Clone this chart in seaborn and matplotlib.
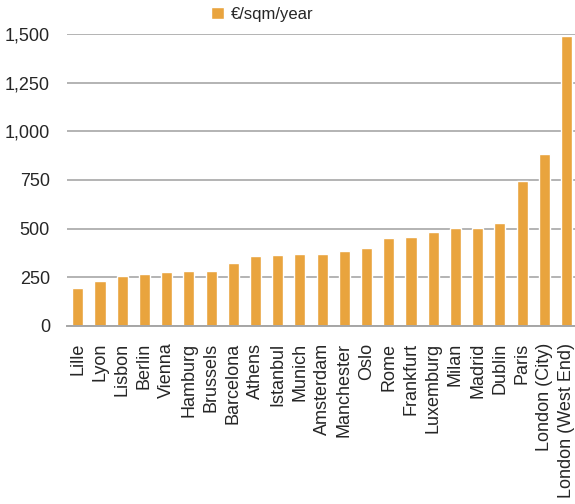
import matplotlib
matplotlib.use("Agg")
import matplotlib.pyplot as plt
import seaborn as sns
import pandas as pd
from matplotlib.ticker import FuncFormatter

cities = ["Lille", "Lyon", "Lisbon", "Berlin", "Vienna", "Hamburg", "Brussels",
          "Barcelona", "Athens", "Istanbul", "Munich", "Amsterdam", "Manchester",
          "Oslo", "Rome", "Frankfurt", "Luxemburg", "Milan", "Madrid", "Dublin",
          "Paris", "London (City)", "London (West End)"]
rents = [197, 233, 258, 269, 279, 284, 284, 325, 361, 366, 370, 370, 385,
         400, 451, 456, 482, 502, 502, 528, 744, 883, 1488]
series_label = "€/sqm/year"
y_ticks = [0, 250, 500, 750, 1000, 1250, 1500]

df = pd.DataFrame({"city": cities, "rent": rents})

sns.set_theme(style="white")
plt.rcParams["font.family"] = ["Liberation Sans", "DejaVu Sans"]

fig = plt.figure(figsize=(5.75, 5.04), dpi=100)
ax = fig.add_axes([66.7 / 575, 1 - 326 / 504, (577.6 - 66.7) / 575, (326 - 34) / 504])

sns.barplot(data=df, x="city", y="rent", color="#E9A43E", width=0.5,
            saturation=1, label=series_label, ax=ax, zorder=3)

ax.set_ylim(0, 1500)
ax.set_yticks(y_ticks)
ax.yaxis.set_major_formatter(FuncFormatter(lambda v, p: f"{int(v):,}"))
ax.set_xlim(-0.5, len(cities) - 0.5)
ax.grid(axis="y", color="#9f9f9f", linewidth=1.1, zorder=0)
ax.set_axisbelow(True)
for side in ["top", "right", "left"]:
    ax.spines[side].set_visible(False)
ax.spines["bottom"].set_color("#a6a6a6")
ax.spines["bottom"].set_linewidth(1.4)
ax.spines["bottom"].set_zorder(4)

ax.tick_params(axis="x", length=0, pad=12, labelsize=13, labelcolor="#262626",
               labelrotation=90)
ax.tick_params(axis="y", length=0, pad=12, labelsize=13, labelcolor="#262626")
ax.set_xlabel("")
ax.set_ylabel("")
if ax.get_legend():
    ax.get_legend().remove()

handles, labels = ax.get_legend_handles_labels()
fig.legend(handles[:1], labels[:1], loc="center", bbox_to_anchor=(0.456, 0.972),
           frameon=False, fontsize=12, handlelength=0.8, handleheight=0.8,
           handletextpad=0.4, labelcolor="#262626")

fig.savefig("out.png", dpi=100)
